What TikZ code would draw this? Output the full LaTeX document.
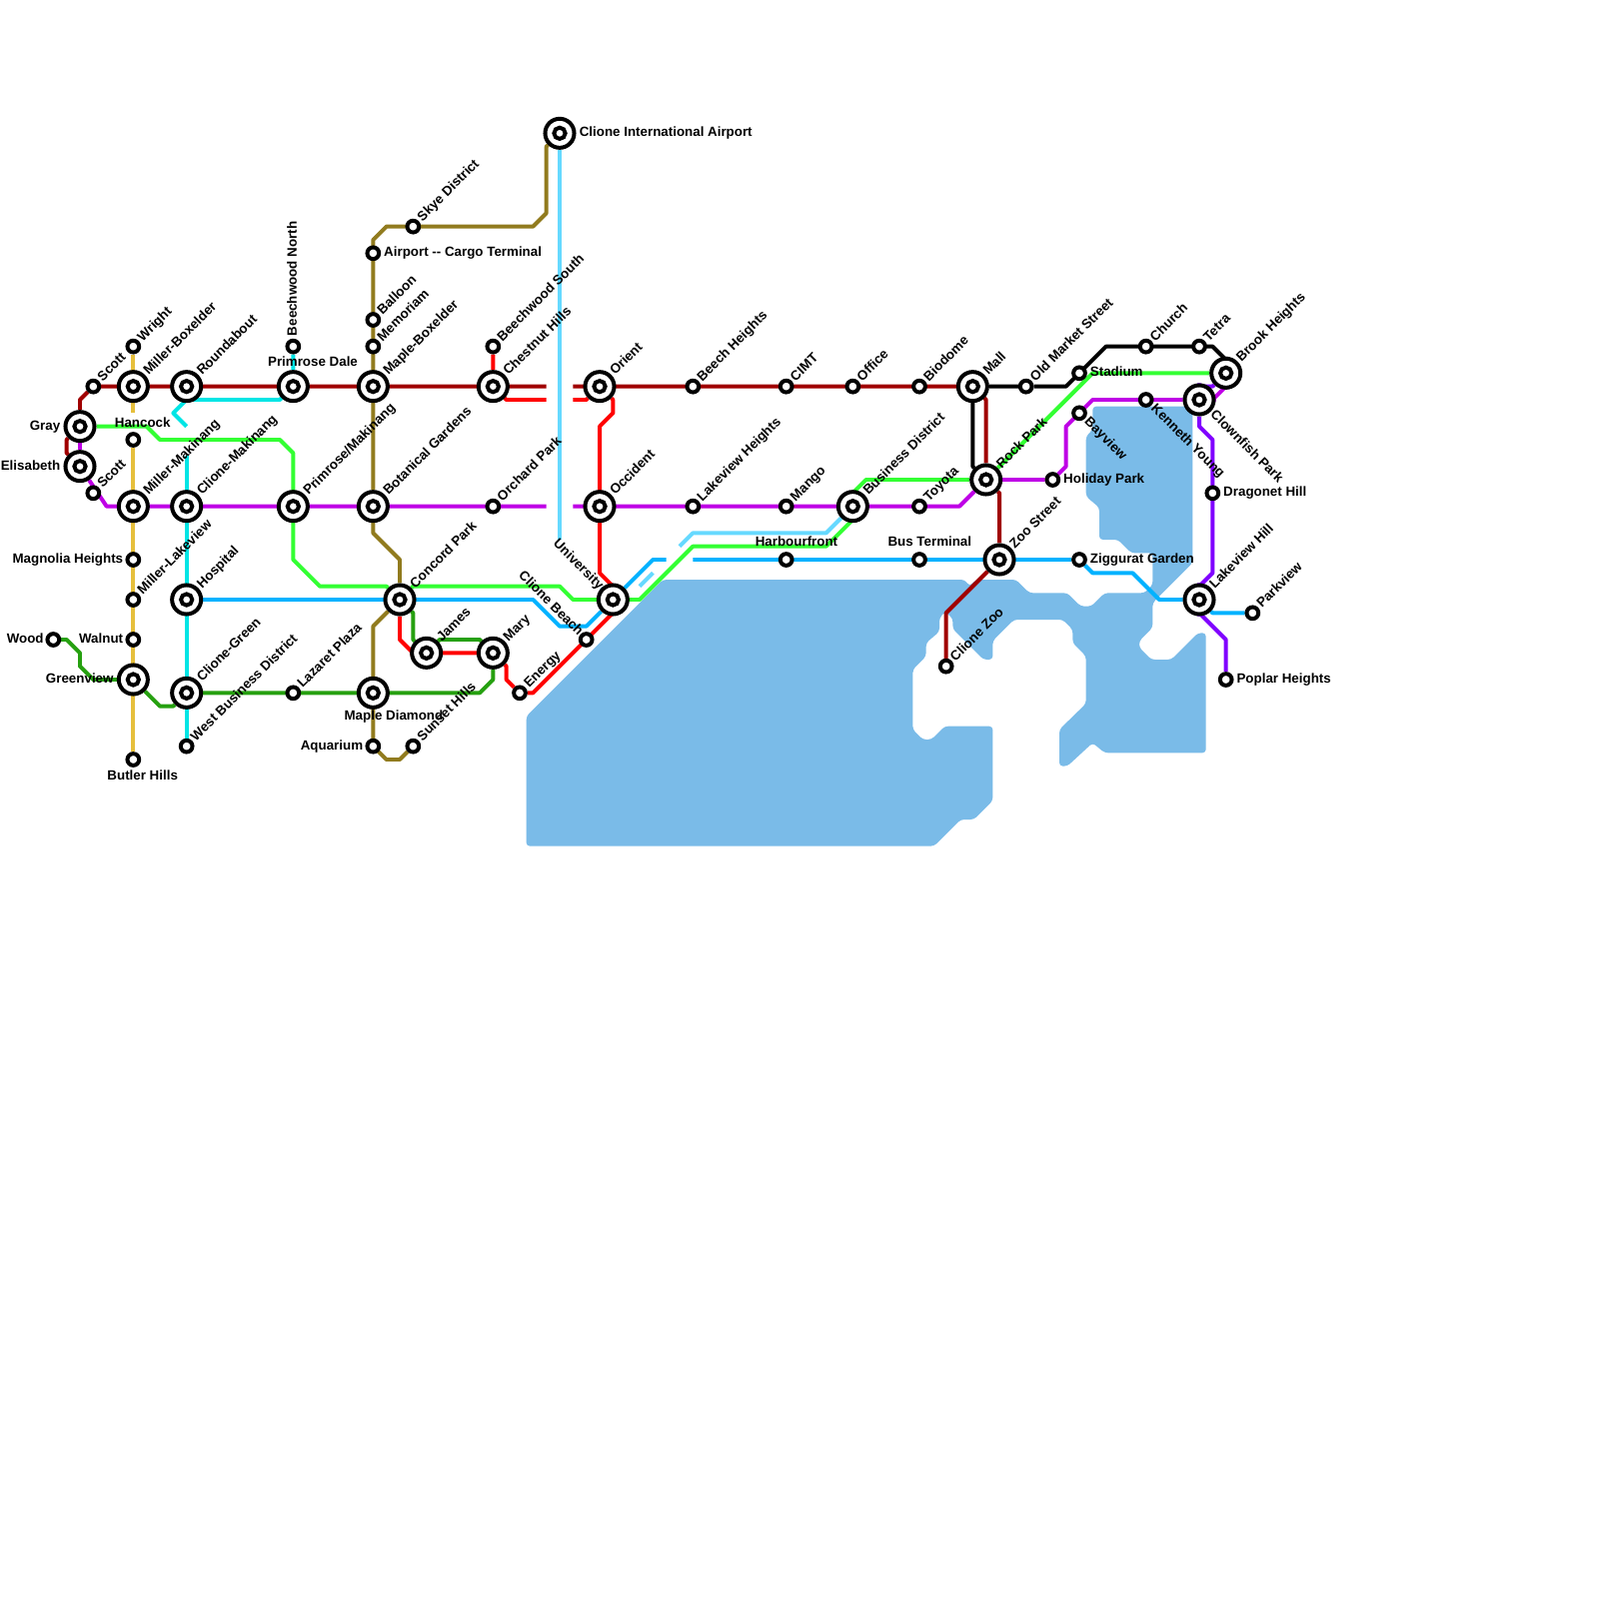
\documentclass[tikz,border=0pt]{standalone}
\usepackage{fontspec}
\setmainfont{Liberation Sans}
\usetikzlibrary{positioning,backgrounds}

\definecolor{linered}{HTML}{FF0000}
\definecolor{linedark}{HTML}{A00000}
\definecolor{linepurple}{HTML}{BF00E6}
\definecolor{lineviolet}{HTML}{8000FF}
\definecolor{linecyan}{HTML}{00E5E5}
\definecolor{linesky}{HTML}{00B2FF}
\definecolor{linepale}{HTML}{66D9FF}
\definecolor{linelime}{HTML}{33FF33}
\definecolor{linegreen}{HTML}{26A010}
\definecolor{lineolive}{HTML}{917B1E}
\definecolor{linegold}{HTML}{E6BF3C}
\definecolor{water}{HTML}{7ABBE8}

\begin{document}
\begin{tikzpicture}[
  x=2mm, y=-2mm,
  stop/.style={circle, draw=black, line width=1.7pt, fill=white, inner sep=0pt, minimum size=5pt},
  hub/.style={circle, draw=black, line width=1.7pt, fill=white, inner sep=0pt, minimum size=12.4pt,
    path picture={\draw[black, line width=1.7pt] (path picture bounding box.center) circle[radius=2.4pt];}},
  tag/.style={font=\bfseries\fontsize{5.7pt}{6.5pt}\selectfont, inner sep=0pt, text height=4.1pt, text depth=1.1pt},
  tagne/.style={tag, rotate=45, anchor=west, xshift=.7pt},
  tagse/.style={tag, rotate=-45, anchor=west, xshift=.7pt},
  tagnw/.style={tag, rotate=-45, anchor=east},
  tagup/.style={tag, rotate=90, anchor=west},
  tagr/.style={tag, anchor=west},
  tagl/.style={tag, anchor=east},
  route/.style={line width=1.7pt, line join=round},
]
\useasboundingbox (0,0) rectangle (120,120);

% interchanges
\node[hub] (gray) at (6,32) {};
\node[hub] (elisabeth) at (6,35) {};
\node[hub] (millerbox) at (10,29) {};
\node[hub] (roundabout) at (14,29) {};
\node[hub] (primrosedale) at (22,29) {};
\node[hub] (maplebox) at (28,29) {};
\node[hub] (chestnut) at (37,29) {};
\node[hub] (orient) at (45,29) {};
\node[hub] (mall) at (73,29) {};
\node[hub] (millermak) at (10,38) {};
\node[hub] (clionemak) at (14,38) {};
\node[hub] (primrosemak) at (22,38) {};
\node[hub] (botanical) at (28,38) {};
\node[hub] (occident) at (45,38) {};
\node[hub] (business) at (64,38) {};
\node[hub] (hospital) at (14,45) {};
\node[hub] (concord) at (30,45) {};
\node[hub] (university) at (46,45) {};
\node[hub] (james) at (32,49) {};
\node[hub] (mary) at (37,49) {};
\node[hub] (greenview) at (10,51) {};
\node[hub] (clionegreen) at (14,52) {};
\node[hub] (maplediamond) at (28,52) {};
\node[hub] (airport) at (42,10) {};
\node[hub] (rockpark) at (74,36) {};
\node[hub] (zoostreet) at (75,42) {};
\node[hub] (brook) at (92,28) {};
\node[hub] (clownfish) at (90,30) {};
\node[hub] (lakeviewhill) at (90,45) {};

% plain stops
\node[stop] (scottn) at (7,29) {};
\node[stop] (scotts) at (7,37) {};
\node[stop] (wright) at (10,26) {};
\node[stop] (hancock) at (10,33) {};
\node[stop] (beechnorth) at (22,26) {};
\node[stop] (skye) at (31,17) {};
\node[stop] (cargo) at (28,19) {};
\node[stop] (balloon) at (28,24) {};
\node[stop] (memoriam) at (28,26) {};
\node[stop] (beechsouth) at (37,26) {};
\node[stop] (orchard) at (37,38) {};
\node[stop] (magnolia) at (10,42) {};
\node[stop] (millerlake) at (10,45) {};
\node[stop] (walnut) at (10,48) {};
\node[stop] (wood) at (4,48) {};
\node[stop] (butler) at (10,57) {};
\node[stop] (westbiz) at (14,56) {};
\node[stop] (lazaret) at (22,52) {};
\node[stop] (aquarium) at (28,56) {};
\node[stop] (sunset) at (31,56) {};
\node[stop] (energy) at (39,52) {};
\node[stop] (clionebeach) at (44,48) {};
\node[stop] (beechheights) at (52,29) {};
\node[stop] (cimt) at (59,29) {};
\node[stop] (office) at (64,29) {};
\node[stop] (biodome) at (69,29) {};
\node[stop] (lakeviewh) at (52,38) {};
\node[stop] (mango) at (59,38) {};
\node[stop] (toyota) at (69,38) {};
\node[stop] (harbour) at (59,42) {};
\node[stop] (busterm) at (69,42) {};
\node[stop] (clionezoo) at (71,50) {};
\node[stop] (oldmarket) at (77,29) {};
\node[stop] (stadium) at (81,28) {};
\node[stop] (church) at (86,26) {};
\node[stop] (tetra) at (90,26) {};
\node[stop] (kenneth) at (86,30) {};
\node[stop] (bayview) at (81,31) {};
\node[stop] (holiday) at (79,36) {};
\node[stop] (ziggurat) at (81,42) {};
\node[stop] (dragonet) at (91,37) {};
\node[stop] (parkview) at (94,46) {};
\node[stop] (poplar) at (92,51) {};

% free ends of the cut lines
\coordinate (redwest) at (41,30);
\coordinate (redeast) at (43,30);
\coordinate (darkwest) at (41,29);
\coordinate (darkeast) at (43,29);
\coordinate (purpwest) at (41,38);
\coordinate (purpeast) at (43,38);
\coordinate (skywest) at (50,42);
\coordinate (skyeast) at (52,42);
\coordinate (palewest) at (48,44);
\coordinate (paleeast) at (51,41);
\coordinate (goldnorth) at (10,31);
\coordinate (cyanhook) at (14,32);
\coordinate (cyansouth) at (14,34.2);
\coordinate (palecut) at (42,40.5);
\coordinate (palestub) at (45.5,44.5);

\begin{scope}[on background layer]
% water
\fill[water, rounded corners=1.5pt]
  (39.5,53.75) -- (49.75,43.5) -- (72.4,43.5) -- (72.75,44) -- (73.25,43.5) -- (76.25,43.5)
  -- (77.25,44.5) -- (80.1,44.5) -- (81.1,45.5) -- (81.9,45.5) -- (82.9,44.5) -- (85.9,44.5)
  -- (86.5,43.9) -- (86.5,41.5) -- (84.9,41.5) -- (83.9,40.5) -- (82.5,40.5) -- (82.5,38.1)
  -- (81.5,37.25) -- (81.5,32.75) -- (82,32.25) -- (82,30.5) -- (89.5,30.5)
  -- (89.5,42.25) -- (86.5,45.25) -- (86.5,47.1) -- (85.5,48.1) -- (85.5,48.6) -- (86.4,49.5)
  -- (87.9,49.5) -- (89.9,47.5) -- (90.5,47.5) -- (90.5,56.5) -- (82.9,56.5) -- (82,55.75)
  -- (80.1,57.5) -- (79.5,57.5) -- (79.5,54.75) -- (81.5,52.8) -- (81.5,49.25) -- (80.5,48.25)
  -- (80.5,47.25) -- (79.75,46.5) -- (76.1,46.5) -- (74.5,48.1) -- (74.5,49.5) -- (73.8,49.5)
  -- (71.5,47.2) -- (71.5,46.4) -- (70.9,45.9) -- (70.5,46.4) -- (70.5,47.4) -- (69.5,48.25)
  -- (69.5,49.25) -- (68.5,50.25) -- (68.5,54.75) -- (69.25,55.5) -- (69.9,55.5) -- (70.9,54.5)
  -- (74.5,54.5) -- (74.5,60.1) -- (73.1,61.5) -- (72.1,61.5) -- (70.1,63.5) -- (39.5,63.5) -- cycle;
% lines
\draw[route, linegold] (wright) -- (goldnorth);
\draw[route, linegold] (hancock) -- (butler);
\draw[route, linecyan] (beechnorth) -- (primrosedale) -- (21,30) -- (14,30) -- (13,31) -- (cyanhook);
\draw[route, linecyan] (cyansouth) -- (westbiz);
\draw[route, lineolive] (airport) -- (41,11) -- (41,16) -- (40,17) -- (29,17) -- (28,18) -- (botanical) -- (28,40) -- (30,42) -- (concord) -- (28,47) -- (28,56) -- (29,57) -- (30,57) -- (sunset);
\draw[route, linepale] (airport) -- (palecut);
\draw[route, linepale] (palestub) -- (university);
\draw[route, linepale] (palewest) -- (49,43);
\draw[route, linepale] (paleeast) -- (52,40) -- (62,40) -- (business);
\draw[route, linelime] (gray) -- (11,32) -- (12,33) -- (21,33) -- (22,34) -- (22,42) -- (24,44) -- (29,44) -- (concord) -- (31,44) -- (42,44) -- (43,45) -- (48,45) -- (52,41) -- (62,41) -- (64,39) -- (64,37) -- (65,36) -- (rockpark) -- (82,28) -- (brook);
\draw[route, linegreen] (wood) -- (5,48) -- (6,49) -- (6,50) -- (7,51) -- (greenview) -- (11,52) -- (12,53) -- (13,53) -- (clionegreen) -- (36,52) -- (37,51) -- (mary) -- (36,48) -- (33,48) -- (james) -- (31,48) -- (31,46) -- (concord);
\draw[route, linesky] (hospital) -- (40,45) -- (42,47) -- (44,47) -- (university) -- (49,42) -- (skywest);
\draw[route, linesky] (skyeast) -- (ziggurat) -- (82,43) -- (85,43) -- (87,45) -- (lakeviewhill) -- (91,46) -- (parkview);
\draw[route, linedark] (gray) -- (6,30) -- (scottn) -- (darkwest);
\draw[route, linedark] (gray) -- (5,33) -- (5,34) -- (elisabeth);
\draw[route, linedark] (darkeast) -- (mall) -- (74,30) -- (rockpark) -- (75,37) -- (zoostreet) -- (71,46) -- (clionezoo);
\draw[route, linered] (beechsouth) -- (chestnut) -- (38,30) -- (redwest);
\draw[route, linered] (redeast) -- (44,30) -- (orient) -- (46,30) -- (46,31) -- (45,32) -- (45,43) -- (46,44) -- (46,46) -- (40,52) -- (energy) -- (38,51) -- (38,50) -- (mary) -- (james) -- (31,49) -- (30,48) -- (concord);
\draw[route, linepurple] (gray) -- (elisabeth) -- (8,38) -- (purpwest);
\draw[route, linepurple] (purpeast) -- (72,38) -- (rockpark) -- (holiday) -- (80,35) -- (80,32) -- (81,31) -- (82,30) -- (clownfish) -- (91,30) -- (92,29) -- (brook);
\draw[route, lineviolet] (brook) -- (91,29) -- (90,29) -- (clownfish) -- (90,32) -- (91,33) -- (91,43) -- (90,44) -- (lakeviewhill) -- (90,46) -- (92,48) -- (poplar);
\draw[route, black] (mall) -- (oldmarket) -- (80,29) -- (83,26) -- (91,26) -- (92,27) -- (brook);
\draw[route, black] (mall) -- (73,35) -- (rockpark);
\end{scope}

% labels
\node[tagne] (scottntag) at (scottn.45) {Scott};
\node[tagne] (scottstag) at (scotts.45) {Scott};
\node[tagne] (wrighttag) at (wright.45) {Wright};
\node[tagne] (millerboxtag) at (millerbox.45) {Miller-Boxelder};
\node[tagne] (roundabouttag) at (roundabout.45) {Roundabout};
\node[tagne] (maplecbtag) at (maplebox.45) {Maple-Boxelder};
\node[tagne] (chestnuttag) at (chestnut.45) {Chestnut Hills};
\node[tagne] (orienttag) at (orient.45) {Orient};
\node[tagne] (malltag) at (mall.45) {Mall};
\node[tagne] (millermaktag) at (millermak.45) {Miller-Makinang};
\node[tagne] (clionemaktag) at (clionemak.45) {Clione-Makinang};
\node[tagne] (primrosemaktag) at (primrosemak.45) {Primrose/Makinang};
\node[tagne] (botanicaltag) at (botanical.45) {Botanical Gardens};
\node[tagne] (occidenttag) at (occident.45) {Occident};
\node[tagne] (businesstag) at (business.45) {Business District};
\node[tagne] (hospitaltag) at (hospital.45) {Hospital};
\node[tagne] (concordtag) at (concord.45) {Concord Park};
\node[tagne] (jamestag) at (james.45) {James};
\node[tagne] (marytag) at (mary.45) {Mary};
\node[tagne] (clionegreentag) at (clionegreen.45) {Clione-Green};
\node[tagne] (rockparktag) at (rockpark.45) {Rock Park};
\node[tagne] (zoostreettag) at (zoostreet.45) {Zoo Street};
\node[tagne] (brooktag) at (brook.45) {Brook Heights};
\node[tagne] (lakeviewhilltag) at (lakeviewhill.45) {Lakeview Hill};
\node[tagne] (skyetag) at (skye.45) {Skye District};
\node[tagne] (balloontag) at (balloon.45) {Balloon};
\node[tagne] (memoriamtag) at (memoriam.45) {Memoriam};
\node[tagne] (beechsouthtag) at (beechsouth.45) {Beechwood South};
\node[tagne] (orchardtag) at (orchard.45) {Orchard Park};
\node[tagne] (millerlaketag) at (millerlake.45) {Miller-Lakeview};
\node[tagne] (westbiztag) at (westbiz.45) {West Business District};
\node[tagne] (lazarettag) at (lazaret.45) {Lazaret Plaza};
\node[tagne] (sunsettag) at (sunset.45) {Sunset Hills};
\node[tagne] (energytag) at (energy.45) {Energy};
\node[tagne] (beechheightstag) at (beechheights.45) {Beech Heights};
\node[tagne] (cimttag) at (cimt.45) {CIMT};
\node[tagne] (officetag) at (office.45) {Office};
\node[tagne] (biodometag) at (biodome.45) {Biodome};
\node[tagne] (lakeviewhtag) at (lakeviewh.45) {Lakeview Heights};
\node[tagne] (mangotag) at (mango.45) {Mango};
\node[tagne] (toyotatag) at (toyota.45) {Toyota};
\node[tagne] (clionezootag) at (clionezoo.45) {Clione Zoo};
\node[tagne] (oldmarkettag) at (oldmarket.45) {Old Market Street};
\node[tagne] (churchtag) at (church.45) {Church};
\node[tagne] (tetratag) at (tetra.45) {Tetra};
\node[tagne] (parkviewtag) at (parkview.45) {Parkview};
\node[tagse] (bayviewtag) at (bayview.-45) {Bayview};
\node[tagse] (kennethtag) at (kenneth.-45) {Kenneth Young};
\node[tagse] (clownfishtag) at (clownfish.-45) {Clownfish Park};
\node[tagnw] (universitytag) at (university.135) {University};
\node[tagnw] (clionebeachtag) at (clionebeach.135) {Clione Beach};
\node[tagup] (beechnorthtag) at ([yshift=1pt]beechnorth.north) {Beechwood North};
\node[tagr, right=1.2pt of airport] (airporttag) {Clione International Airport};
\node[tagr, right=1.1pt of cargo] (cargotag) {Airport {-}{-} Cargo Terminal};
\node[tagr, right=1.1pt of stadium] (stadiumtag) {Stadium};
\node[tagr, right=1.1pt of holiday] (holidaytag) {Holiday Park};
\node[tagr, right=1.1pt of dragonet] (dragonettag) {Dragonet Hill};
\node[tagr, right=1.1pt of ziggurat] (zigguratag) {Ziggurat Garden};
\node[tagr, right=1.1pt of poplar] (poplartag) {Poplar Heights};
\node[tagl, left=1.2pt of gray] (graytag) {Gray};
\node[tagl, left=1.2pt of elisabeth] (elisabethtag) {Elisabeth};
\node[tagl, left=.8pt of magnolia] (magnoliatag) {Magnolia Heights};
\node[tagl, left=.8pt of walnut] (walnuttag) {Walnut};
\node[tagl, left=.6pt of wood] (woodtag) {Wood};
\node[tagl, left=1.2pt of greenview] (greenviewtag) {Greenview};
\node[tagl, left=.8pt of aquarium] (aquariumtag) {Aquarium};
\node[tag, above=.2pt of primrosedale, xshift=8.4pt] (primrosedaletag) {Primrose Dale};
\node[tag, above=.7pt of hancock, xshift=4pt] (hancocktag) {Hancock};
\node[tag, above=1pt of harbour, xshift=4.4pt] (harbourtag) {Harbourfront};
\node[tag, above=1pt of busterm, xshift=4.4pt] (bustermtag) {Bus Terminal};
\node[tag, below=.2pt of maplediamond, xshift=8.8pt] (maplediamondtag) {Maple Diamond};
\node[tag, below=1pt of butler, xshift=4pt] (butlertag) {Butler Hills};
\end{tikzpicture}
\end{document}
